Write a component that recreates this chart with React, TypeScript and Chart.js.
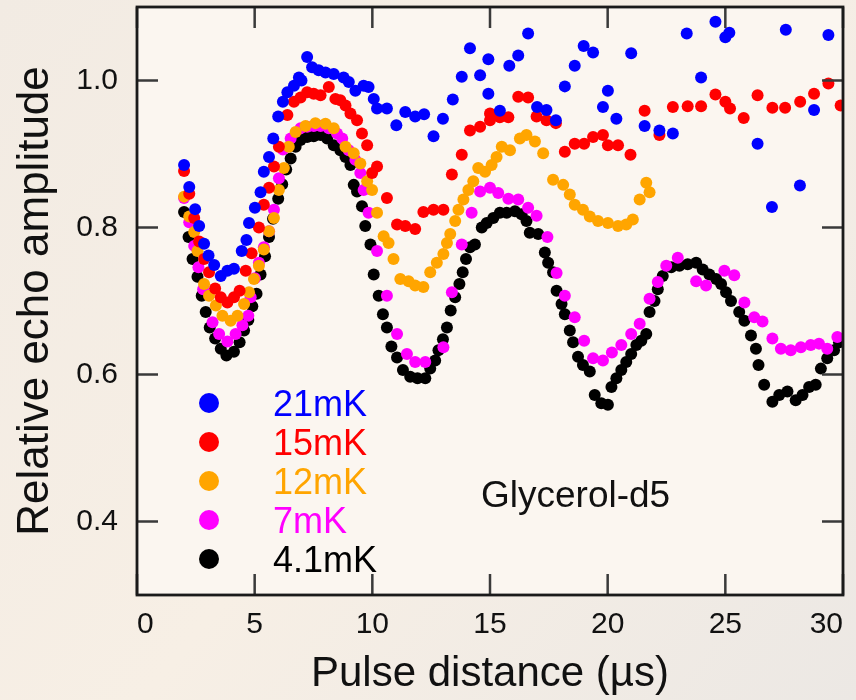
import React, { useEffect, useRef } from "react";
import { Chart, registerables } from "chart.js";

Chart.register(...registerables);

// ---- data ----
const xTickValues = [0, 5, 10, 15, 20, 25, 30];
const yTickValues = [0.4, 0.6, 0.8, 1.0];
const seriesLabels = ["21mK", "15mK", "12mK", "7mK", "4.1mK"];
const seriesColors = ["#0000ff", "#ff0000", "#ffa500", "#ff00ff", "#000000"];
const xTitle = "Pulse distance (µs)";
const yTitle = "Relative echo amplitude";
const sampleLabel = "Glycerol-d5";

const t21mK: number[][] = [
  [2.0, 0.885], [2.22, 0.855], [2.47, 0.825], [2.64, 0.802], [2.85, 0.778], [3.04, 0.762], [3.28, 0.749],
  [3.56, 0.734], [3.84, 0.741], [4.12, 0.744], [4.45, 0.768], [4.65, 0.783], [4.76, 0.806], [5.01, 0.827],
  [5.25, 0.848], [5.39, 0.876], [5.61, 0.896], [5.79, 0.921], [6.0, 0.951], [6.2, 0.971], [6.39, 0.984],
  [6.67, 0.993], [6.88, 1.004], [6.99, 1.0], [7.23, 1.032], [7.44, 1.018], [7.72, 1.014], [8.01, 1.011],
  [8.36, 1.009], [8.78, 1.004], [9.0, 0.998], [9.28, 0.986], [9.63, 0.993], [9.84, 0.991], [10.06, 0.975],
  [10.2, 0.962], [10.62, 0.962], [11.02, 0.939], [11.4, 0.957], [11.82, 0.951], [12.2, 0.954], [12.6, 0.924],
  [13.0, 0.948], [13.42, 0.974], [13.8, 1.005], [14.15, 1.044], [14.58, 1.007], [14.93, 1.029], [14.93, 0.982],
  [15.42, 0.959], [15.82, 1.02], [16.2, 1.034], [16.62, 1.064], [17.0, 0.964], [17.4, 0.96], [17.8, 0.946],
  [18.18, 0.992], [18.6, 1.02], [18.98, 1.047], [19.38, 1.038], [19.8, 0.964], [20.01, 0.986], [20.37, 0.948],
  [21.0, 1.037], [21.57, 0.938], [22.2, 0.932], [22.77, 0.928], [23.36, 1.064], [23.97, 1.004], [24.58, 1.08],
  [25.0, 1.059], [25.17, 1.065], [26.37, 0.914], [26.98, 0.828], [27.57, 1.069], [28.17, 0.857], [28.77, 0.96],
  [29.38, 1.062],
];

const t15mK: number[][] = [
  [2.0, 0.877], [2.22, 0.846], [2.43, 0.813], [2.64, 0.781], [2.85, 0.757], [3.06, 0.739], [3.32, 0.717],
  [3.56, 0.705], [3.84, 0.698], [4.12, 0.705], [4.36, 0.714], [4.62, 0.741], [4.87, 0.765], [5.18, 0.8],
  [5.39, 0.831], [5.61, 0.854], [5.82, 0.883], [6.03, 0.91], [6.39, 0.953], [6.67, 0.971], [6.95, 0.977],
  [7.23, 0.984], [7.51, 0.982], [7.8, 0.98], [8.15, 0.991], [8.43, 0.975], [8.64, 0.973], [8.86, 0.966],
  [9.07, 0.955], [9.35, 0.946], [9.56, 0.928], [9.78, 0.912], [9.99, 0.874], [10.2, 0.883], [10.62, 0.84],
  [11.05, 0.804], [11.4, 0.802], [11.82, 0.798], [12.17, 0.821], [12.6, 0.824], [13.02, 0.824], [13.38, 0.872],
  [13.8, 0.899], [14.15, 0.932], [14.58, 0.937], [15.0, 0.946], [15.0, 0.955], [15.42, 0.95], [15.78, 0.95],
  [16.2, 0.978], [16.62, 0.977], [16.98, 0.951], [17.4, 0.946], [17.8, 0.942], [18.18, 0.903], [18.6, 0.914],
  [19.0, 0.914], [19.38, 0.923], [19.8, 0.926], [20.01, 0.912], [20.44, 0.912], [20.97, 0.899], [21.57, 0.959],
  [22.2, 0.926], [22.77, 0.964], [23.4, 0.965], [23.97, 0.965], [24.58, 0.981], [25.0, 0.971], [25.2, 0.962],
  [25.78, 0.949], [26.37, 0.98], [27.0, 0.963], [27.54, 0.963], [28.18, 0.971], [28.77, 0.982], [29.38, 0.996],
  [29.9, 0.966],
];

const t12mK: number[][] = [
  [2.0, 0.842], [2.22, 0.815], [2.43, 0.794], [2.57, 0.768], [2.85, 0.723], [3.06, 0.707], [3.35, 0.694],
  [3.63, 0.68], [3.98, 0.673], [4.27, 0.68], [4.55, 0.696], [4.76, 0.712], [4.97, 0.73], [5.18, 0.748],
  [5.39, 0.77], [5.61, 0.795], [5.82, 0.813], [6.03, 0.851], [6.24, 0.881], [6.45, 0.91], [6.74, 0.93],
  [7.16, 0.938], [7.58, 0.942], [8.01, 0.941], [8.36, 0.935], [8.86, 0.91], [9.21, 0.901], [9.49, 0.887],
  [9.78, 0.863], [9.99, 0.851], [10.2, 0.82], [10.48, 0.788], [10.69, 0.779], [10.9, 0.757], [11.19, 0.73],
  [11.54, 0.727], [11.82, 0.721], [12.17, 0.719], [12.46, 0.739], [12.74, 0.752], [13.02, 0.764], [13.17, 0.779],
  [13.31, 0.791], [13.52, 0.809], [13.66, 0.824], [13.87, 0.838], [14.08, 0.851], [14.29, 0.863], [14.5, 0.881],
  [14.79, 0.876], [15.07, 0.885], [15.28, 0.896], [15.5, 0.91], [15.85, 0.905], [16.27, 0.921], [16.55, 0.926],
  [16.91, 0.917], [17.26, 0.901], [17.68, 0.865], [18.11, 0.858], [18.39, 0.845], [18.6, 0.831], [18.95, 0.824],
  [19.24, 0.815], [19.59, 0.809], [20.01, 0.806], [20.44, 0.802], [20.79, 0.804], [21.07, 0.811], [21.36, 0.838],
  [21.64, 0.861], [21.78, 0.848],
];

const t7mK: number[][] = [
  [2.0, 0.84], [2.22, 0.807], [2.43, 0.775], [2.61, 0.746], [2.81, 0.716], [3.21, 0.671], [3.49, 0.655],
  [3.84, 0.645], [4.19, 0.655], [4.48, 0.667], [4.73, 0.68], [4.83, 0.705], [5.01, 0.731], [5.18, 0.752],
  [5.39, 0.773], [5.61, 0.795], [5.82, 0.824], [6.03, 0.867], [6.2, 0.906], [6.53, 0.921], [6.95, 0.935],
  [7.23, 0.937], [7.51, 0.938], [7.8, 0.938], [8.15, 0.935], [8.5, 0.928], [8.72, 0.921], [9.0, 0.905],
  [9.28, 0.892], [9.49, 0.874], [9.63, 0.851], [9.84, 0.82], [10.2, 0.768], [10.62, 0.707], [11.05, 0.655],
  [11.47, 0.628], [11.82, 0.617], [12.25, 0.617], [13.02, 0.637], [13.38, 0.712], [13.8, 0.777], [14.22, 0.82],
  [14.58, 0.849], [15.0, 0.854], [15.35, 0.847], [15.78, 0.839], [16.2, 0.838], [16.62, 0.827], [16.98, 0.816],
  [17.44, 0.787], [17.83, 0.738], [18.18, 0.707], [18.6, 0.678], [19.0, 0.646], [19.38, 0.622], [19.8, 0.619],
  [20.18, 0.63], [20.58, 0.64], [21.0, 0.655], [21.36, 0.669], [21.78, 0.703], [22.13, 0.726], [22.49, 0.748],
  [22.98, 0.759], [23.76, 0.727], [24.18, 0.721], [24.96, 0.741], [25.38, 0.735], [25.81, 0.698], [26.23, 0.678],
  [26.58, 0.672], [27.0, 0.649], [27.36, 0.635], [27.78, 0.633], [28.21, 0.637], [28.63, 0.64], [28.98, 0.642],
  [29.33, 0.635], [29.76, 0.651],
];

const t4_1mK: number[][] = [
  [2.0, 0.821], [2.19, 0.787], [2.36, 0.757], [2.57, 0.733], [2.75, 0.707], [2.92, 0.685], [3.09, 0.664],
  [3.32, 0.649], [3.56, 0.635], [3.8, 0.626], [4.12, 0.631], [4.36, 0.644], [4.55, 0.66], [4.73, 0.674],
  [4.9, 0.693], [5.08, 0.71], [5.25, 0.736], [5.44, 0.761], [5.61, 0.787], [5.78, 0.812], [6.0, 0.839],
  [6.17, 0.859], [6.34, 0.879], [6.53, 0.894], [6.74, 0.91], [6.95, 0.919], [7.23, 0.923], [7.51, 0.924],
  [7.8, 0.926], [8.08, 0.921], [8.36, 0.912], [8.64, 0.905], [8.86, 0.896], [9.07, 0.885], [9.21, 0.858],
  [9.35, 0.849], [9.56, 0.829], [9.7, 0.802], [9.92, 0.777], [10.06, 0.736], [10.27, 0.707], [10.45, 0.682],
  [10.62, 0.664], [10.81, 0.638], [11.05, 0.623], [11.3, 0.606], [11.61, 0.597], [11.92, 0.595], [12.25, 0.595],
  [12.46, 0.608], [12.67, 0.619], [12.81, 0.633], [13.0, 0.648], [13.17, 0.664], [13.33, 0.687], [13.52, 0.705],
  [13.7, 0.723], [13.84, 0.739], [13.98, 0.757], [14.15, 0.773], [14.36, 0.777], [14.65, 0.8], [14.86, 0.806],
  [15.14, 0.813], [15.42, 0.82], [15.71, 0.82], [16.06, 0.822], [16.34, 0.818], [16.55, 0.809], [16.69, 0.793],
  [17.05, 0.791], [17.33, 0.766], [17.47, 0.752], [17.68, 0.739], [17.83, 0.714], [18.04, 0.696], [18.18, 0.682],
  [18.39, 0.66], [18.53, 0.644], [18.74, 0.624], [18.95, 0.613], [19.24, 0.604], [19.45, 0.572], [19.73, 0.561],
  [20.01, 0.559], [20.16, 0.583], [20.37, 0.595], [20.58, 0.606], [20.79, 0.617], [21.0, 0.628], [21.22, 0.64],
  [21.43, 0.646], [21.64, 0.655], [21.78, 0.685], [21.99, 0.7], [22.13, 0.716], [22.34, 0.734], [22.7, 0.746],
  [23.05, 0.748], [23.4, 0.75], [23.76, 0.752], [24.04, 0.743], [24.32, 0.736], [24.61, 0.73], [24.82, 0.723],
  [25.03, 0.712], [25.24, 0.7], [25.59, 0.685], [25.81, 0.673], [26.09, 0.653], [26.3, 0.635], [26.41, 0.613],
  [26.65, 0.586], [27.0, 0.563], [27.29, 0.572], [27.64, 0.577], [27.99, 0.565], [28.28, 0.572], [28.56, 0.583],
  [28.84, 0.586], [29.06, 0.608], [29.33, 0.622], [29.62, 0.633], [29.83, 0.644],
];

const seriesData = [t21mK, t15mK, t12mK, t7mK, t4_1mK];

const FONT = "'Liberation Sans', Arial, Helvetica, sans-serif";

const decorPlugin = {
  id: "decor",
  beforeDraw(chart: any) {
    const { ctx, width, height, chartArea: a } = chart;
    ctx.save();
    const g = ctx.createLinearGradient(0, 0, width, height);
    g.addColorStop(0, "#f2ebe3");
    g.addColorStop(0.5, "#f7efe5");
    g.addColorStop(1, "#ece8e4");
    ctx.fillStyle = g;
    ctx.fillRect(0, 0, width, height);
    ctx.fillStyle = "#fbf6f0";
    ctx.fillRect(a.left, a.top, a.right - a.left, a.bottom - a.top);
    ctx.restore();
  },
  afterDatasetsDraw(chart: any) {
    const { ctx, chartArea: a, scales } = chart;
    const xs = scales.x;
    const ys = scales.y;
    ctx.save();
    // inward ticks on all four sides
    ctx.strokeStyle = "#3a3a3a";
    ctx.lineWidth = 2.5;
    const tl = 21;
    ctx.beginPath();
    xs.ticks.forEach((t: any) => {
      const px = xs.getPixelForValue(t.value);
      ctx.moveTo(px, a.bottom);
      ctx.lineTo(px, a.bottom - tl);
      ctx.moveTo(px, a.top);
      ctx.lineTo(px, a.top + tl);
    });
    ys.ticks.forEach((t: any) => {
      const py = ys.getPixelForValue(t.value);
      ctx.moveTo(a.left, py);
      ctx.lineTo(a.left + tl, py);
      ctx.moveTo(a.right, py);
      ctx.lineTo(a.right - tl, py);
    });
    ctx.stroke();
    // frame
    ctx.strokeStyle = "#1a1a1a";
    ctx.lineWidth = 2.8;
    ctx.strokeRect(a.left, a.top, a.right - a.left, a.bottom - a.top);

    // legend inside plot
    const ds = chart.data.datasets;
    const dotX = 209;
    const textX = 273;
    const row0 = 403;
    const step = 39;
    ctx.font = `36px ${FONT}`;
    ctx.textAlign = "left";
    ctx.textBaseline = "alphabetic";
    ds.forEach((d: any, i: number) => {
      const cy = row0 + i * step;
      ctx.fillStyle = d.backgroundColor;
      ctx.beginPath();
      ctx.arc(dotX, cy, 10, 0, Math.PI * 2);
      ctx.fill();
      ctx.fillText(d.label, textX, cy + 13);
    });

    // sample annotation
    ctx.fillStyle = "#111";
    ctx.font = `37px ${FONT}`;
    ctx.fillText(sampleLabel, 481, 507);
    ctx.restore();
  },
};

const zeroPad = (s: any) => {
  s.paddingTop = 0;
  s.paddingBottom = 0;
  s.paddingLeft = 0;
  s.paddingRight = 0;
};

export default function App() {
  const ref = useRef<HTMLCanvasElement>(null);
  useEffect(() => {
    document.body.style.margin = "0";
    const datasets = seriesData.map((pts, i) => ({
      label: seriesLabels[i],
      data: pts.map(([x, y]) => ({ x, y })),
      backgroundColor: seriesColors[i],
      borderColor: seriesColors[i],
      pointRadius: 6,
      pointBorderWidth: 0,
      showLine: false,
    }));
    const chart = new Chart(ref.current as HTMLCanvasElement, {
      type: "scatter",
      data: { datasets },
      options: {
        animation: false,
        responsive: true,
        maintainAspectRatio: false,
        devicePixelRatio: 1,
        layout: { padding: { top: 7, right: 13, bottom: 0, left: 0 } },
        plugins: { legend: { display: false }, tooltip: { enabled: false } },
        scales: {
          x: {
            type: "linear",
            min: 0,
            max: 30,
            afterBuildTicks: (s: any) => {
              s.ticks = xTickValues.map((value) => ({ value }));
            },
            afterFit: (s: any) => {
              s.height = 105;
              zeroPad(s);
            },
            grid: { display: false, drawTicks: false },
            border: { display: false },
            ticks: {
              autoSkip: false,
              maxRotation: 0,
              minRotation: 0,
              align: "inner",
              padding: 12,
              color: "#111",
              font: { family: FONT, size: 30 },
              callback: (v: any) => String(v),
            },
            title: {
              display: true,
              text: xTitle,
              color: "#111",
              font: { family: FONT, size: 42 },
              padding: { top: 0, bottom: 0 },
            },
          },
          y: {
            type: "linear",
            min: 0.3,
            max: 1.1,
            afterBuildTicks: (s: any) => {
              s.ticks = yTickValues.map((value) => ({ value }));
            },
            afterFit: (s: any) => {
              s.width = 137;
              zeroPad(s);
            },
            grid: { display: false, drawTicks: false },
            border: { display: false },
            ticks: {
              padding: 19,
              color: "#111",
              font: { family: FONT, size: 30 },
              callback: (v: any) => Number(v).toFixed(1),
            },
            title: {
              display: true,
              text: yTitle,
              color: "#111",
              font: { family: FONT, size: 44 },
              padding: { top: 9, bottom: 0 },
            },
          },
        },
      },
      plugins: [decorPlugin],
    } as any);
    return () => chart.destroy();
  }, []);
  return (
    <div style={{ position: "relative", width: 856, height: 700 }}>
      <canvas ref={ref} />
    </div>
  );
}
